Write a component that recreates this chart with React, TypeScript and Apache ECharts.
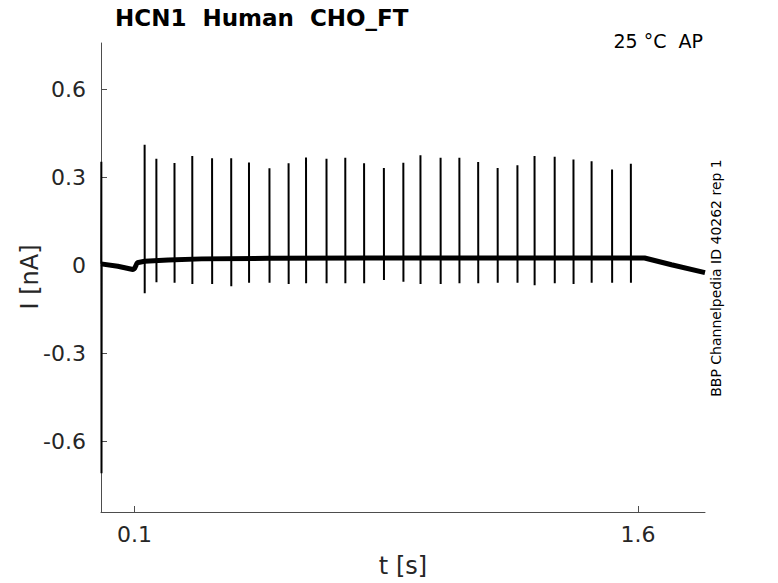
import React, { useEffect, useRef } from "react";
import * as echarts from "echarts";

const FONT = "'DejaVu Sans', 'Noto Sans', sans-serif";

const titleText = "HCN1  Human  CHO_FT";
const conditionText = "25 °C  AP";
const sourceText = "BBP Channelpedia ID 40262 rep 1";
const xName = "t [s]";
const yName = "I [nA]";

const xTicks = [0.1, 1.6];
const yTicks = [-0.6, -0.3, 0, 0.3, 0.6];

// spike (action-current) times in s, peak and trough currents in nA
const spikeTimes = [
  0.130, 0.165, 0.219, 0.272, 0.331, 0.388, 0.441, 0.502, 0.559, 0.611, 0.672,
  0.728, 0.784, 0.843, 0.901, 0.952, 1.012, 1.068, 1.124, 1.182, 1.241, 1.292,
  1.352, 1.408, 1.462, 1.523, 1.579,
];
const spikePeaks = [
  0.410, 0.362, 0.348, 0.372, 0.364, 0.364, 0.350, 0.330, 0.347, 0.367, 0.362,
  0.366, 0.347, 0.331, 0.349, 0.374, 0.366, 0.366, 0.351, 0.331, 0.340, 0.372,
  0.369, 0.360, 0.354, 0.326, 0.345,
];
const spikeTroughs = [
  -0.096, -0.059, -0.060, -0.065, -0.065, -0.072, -0.060, -0.060, -0.065, -0.062,
  -0.062, -0.062, -0.062, -0.051, -0.057, -0.065, -0.065, -0.062, -0.062, -0.060,
  -0.060, -0.069, -0.062, -0.065, -0.060, -0.060, -0.060,
];

// capacitive transient at the start of the recording
const transientTimes = [0.0005, 0.001, 0.0015, 0.002];
const transientValues = [0.004, 0.352, -0.71, 0.003];

// holding-current baseline
const baseTimes = [0, 0.05, 0.095, 0.1, 0.108, 0.13, 0.2, 0.3, 0.5, 0.8, 1.0, 1.3, 1.6, 1.62, 1.7, 1.8];
const baseValues = [0.004, -0.004, -0.015, -0.012, 0.008, 0.013, 0.017, 0.021, 0.023, 0.024, 0.024, 0.024, 0.024, 0.024, 0.001, -0.026];

export default function App() {
  const ref = useRef<HTMLDivElement>(null);
  useEffect(() => {
    if (!ref.current) return;
    const chart = echarts.init(ref.current, undefined, { renderer: "svg" });

    const baseData = baseTimes.map((t, i) => [t, baseValues[i]]);
    const spikeData: any[] = [];
    transientTimes.forEach((t, i) => spikeData.push([t, transientValues[i]]));
    spikeData.push([0.0025, "-"]);
    spikeTimes.forEach((t, i) => {
      spikeData.push([t, spikePeaks[i]]);
      spikeData.push([t + 0.0003, spikeTroughs[i]]);
      spikeData.push([t + 0.0006, "-"]);
    });

    const axisColor = "#4d4d4d";
    const labelColor = "#262626";

    chart.setOption({
      animation: false,
      backgroundColor: "#ffffff",
      grid: { left: 101, top: 43, width: 604, height: 469, containLabel: false },
      xAxis: {
        type: "value",
        min: 0,
        max: 1.8,
        axisLine: { show: true, onZero: false, lineStyle: { color: axisColor, width: 1 } },
        axisTick: { show: true, inside: true, length: 6, customValues: xTicks, lineStyle: { color: axisColor } },
        axisLabel: {
          customValues: xTicks,
          margin: 11,
          fontSize: 22,
          fontFamily: FONT,
          color: labelColor,
          formatter: (v: number) => String(v),
        },
        splitLine: { show: false },
      },
      yAxis: {
        type: "value",
        min: -0.842,
        max: 0.757,
        axisLine: { show: true, onZero: false, lineStyle: { color: axisColor, width: 1 } },
        axisTick: { show: true, inside: true, length: 6, customValues: yTicks, lineStyle: { color: axisColor } },
        axisLabel: {
          customValues: yTicks,
          margin: 15,
          fontSize: 22,
          fontFamily: FONT,
          color: labelColor,
          formatter: (v: number) => (Math.abs(v) < 1e-9 ? "0" : String(v)),
        },
        splitLine: { show: false },
      },
      graphic: [
        {
          type: "text",
          x: 115,
          y: 18,
          style: {
            text: titleText,
            font: `bold 23px ${FONT}`,
            fill: "#000",
            align: "left",
            verticalAlign: "middle",
          },
        },
        {
          type: "text",
          x: 703,
          y: 41,
          style: {
            text: conditionText,
            font: `19px ${FONT}`,
            fill: "#000",
            align: "right",
            verticalAlign: "middle",
          },
        },
        {
          type: "text",
          x: 716,
          y: 278,
          rotation: Math.PI / 2,
          style: {
            text: sourceText,
            font: `14px ${FONT}`,
            fill: "#000",
            align: "center",
            verticalAlign: "middle",
          },
        },
        {
          type: "text",
          x: 30,
          y: 277,
          rotation: Math.PI / 2,
          style: {
            text: yName,
            font: `24px ${FONT}`,
            fill: labelColor,
            align: "center",
            verticalAlign: "middle",
          },
        },
        {
          type: "text",
          x: 403,
          y: 566,
          style: {
            text: xName,
            font: `24px ${FONT}`,
            fill: labelColor,
            align: "center",
            verticalAlign: "middle",
          },
        },
      ],
      series: [
        {
          type: "line",
          data: baseData,
          showSymbol: false,
          symbol: "none",
          lineStyle: { color: "#000", width: 5 },
          z: 2,
        },
        {
          type: "line",
          data: spikeData,
          showSymbol: false,
          symbol: "none",
          connectNulls: false,
          lineStyle: { color: "#000", width: 2 },
          z: 3,
        },
      ],
    });
    return () => chart.dispose();
  }, []);

  return (
    <div
      ref={ref}
      style={{ position: "fixed", left: 0, top: 0, width: 778, height: 583, background: "#fff" }}
    />
  );
}
